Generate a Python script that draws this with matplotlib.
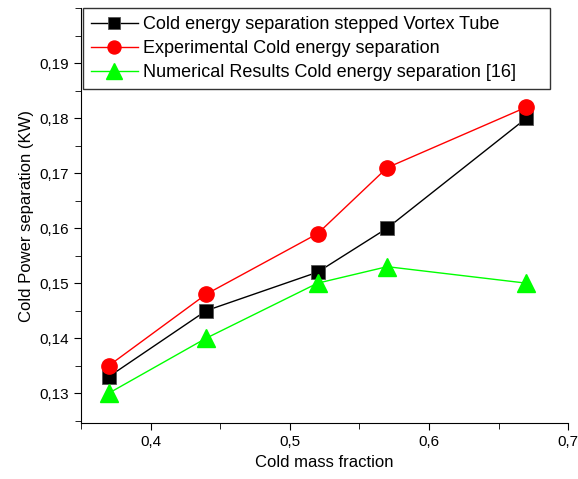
import numpy as np
from matplotlib import pyplot as plt
from matplotlib.ticker import FuncFormatter, MultipleLocator

plt.rcParams["font.family"] = ["Liberation Sans", "DejaVu Sans"]

cold_fraction = [0.37, 0.44, 0.52, 0.57, 0.67]
stepped_tube = [0.133, 0.145, 0.152, 0.160, 0.180]
experimental = [0.135, 0.148, 0.159, 0.171, 0.182]
numerical = [0.130, 0.140, 0.150, 0.153, 0.150]
y_ticks = [0.13, 0.14, 0.15, 0.16, 0.17, 0.18, 0.19]


def comma(v, nd):
    return ("%.*f" % (nd, v)).replace(".", ",")


fig = plt.figure(figsize=(5.78, 4.79), dpi=100)
ax = fig.add_axes([0.140, 0.116, 0.843, 0.867])

ax.plot(cold_fraction, stepped_tube, color="black", lw=1, marker="s", ms=10,
        mec="#555555", mew=0.6,
        label="Cold energy separation stepped Vortex Tube")
ax.plot(cold_fraction, experimental, color="red", lw=1, marker="o", ms=11,
        label="Experimental Cold energy separation")
ax.plot(cold_fraction, numerical, color="#00ff00", lw=1, marker="^", ms=13,
        label="Numerical Results Cold energy separation [16]")

ax.set_xlim(0.35, 0.7)
ax.set_ylim(0.1245, 0.2)
ax.xaxis.set_major_locator(MultipleLocator(0.1))
ax.xaxis.set_minor_locator(MultipleLocator(0.05))
ax.set_yticks(y_ticks)
ax.yaxis.set_minor_locator(MultipleLocator(0.005))
ax.xaxis.set_major_formatter(FuncFormatter(lambda v, p: comma(v, 1)))
ax.yaxis.set_major_formatter(FuncFormatter(lambda v, p: comma(v, 2)))
ax.tick_params(which="both", direction="out", labelsize=11)
ax.tick_params(which="major", length=5)
ax.tick_params(which="minor", length=4)

ax.spines["top"].set_visible(False)
ax.spines["right"].set_visible(False)

ax.set_xlabel("Cold mass fraction", fontsize=12)
ax.set_ylabel("Cold Power separation (KW)", fontsize=12)

leg = ax.legend(loc="upper left", bbox_to_anchor=(0.004, 1.0, 0.959, 0),
                mode="expand", fontsize=13, markerscale=0.85,
                frameon=True, fancybox=False, edgecolor="black",
                handlelength=2.6, borderpad=0.45, labelspacing=0.38,
                handletextpad=0.3, borderaxespad=0)
leg.get_frame().set_linewidth(1)

plt.savefig("out.png", dpi=100)
